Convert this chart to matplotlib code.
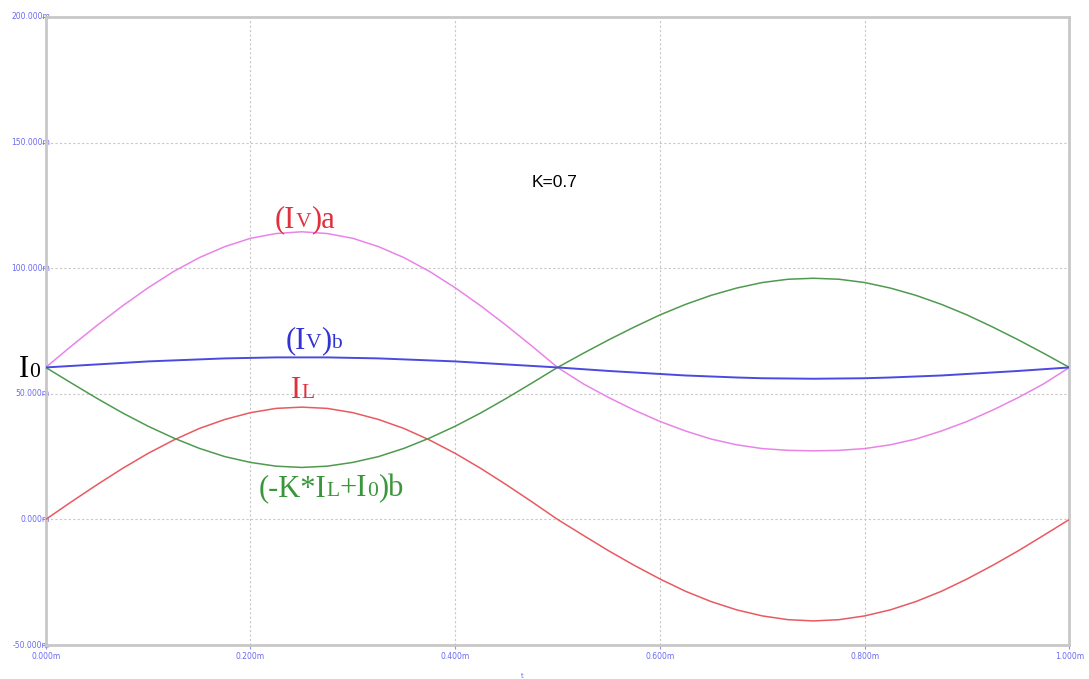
import numpy as np
import matplotlib
matplotlib.use("Agg")
import matplotlib.pyplot as plt
from matplotlib.offsetbox import TextArea, HPacker, AnnotationBbox

# ---- data (values in milli-units) ----
time = np.linspace(0.0, 1.0, 41)

iv_a = [60.5, 69.0, 77.2, 85.0, 92.2, 98.7, 104.2, 108.6, 111.9, 113.8, 114.5,
        113.8, 111.9, 108.6, 104.2, 98.7, 92.2, 85.0, 77.2, 69.0, 60.5,
        54.0, 48.5, 43.5, 39.0, 35.2, 32.0, 29.7, 28.2, 27.5, 27.3,
        27.5, 28.2, 29.7, 32.0, 35.2, 39.0, 43.5, 48.5, 54.0, 60.5]

i_l = [0, 7.0, 13.8, 20.3, 26.3, 31.6, 36.2, 39.8, 42.5, 44.2, 44.7,
       44.2, 42.5, 39.8, 36.2, 31.6, 26.3, 20.3, 13.8, 7.0, 0,
       -6.3, -12.5, -18.3, -23.7, -28.6, -32.7, -36.0, -38.4, -39.9, -40.4,
       -39.9, -38.4, -36.0, -32.7, -28.6, -23.7, -18.3, -12.5, -6.3, 0]

k_il_i0_b = [60.5, 54.3, 48.2, 42.4, 37.1, 32.4, 28.3, 25.0, 22.7, 21.2, 20.7,
             21.2, 22.7, 25.0, 28.3, 32.4, 37.1, 42.4, 48.2, 54.3, 60.5,
             66.1, 71.5, 76.6, 81.4, 85.6, 89.2, 92.1, 94.3, 95.6, 96.0,
             95.6, 94.3, 92.1, 89.2, 85.6, 81.4, 76.6, 71.5, 66.1, 60.5]

iv_b = [60.5, 61.1, 61.7, 62.3, 62.9, 63.3, 63.7, 64.1, 64.3, 64.5, 64.5,
        64.5, 64.3, 64.1, 63.7, 63.3, 62.9, 62.3, 61.7, 61.1, 60.5,
        59.8, 59.1, 58.5, 57.9, 57.3, 56.9, 56.5, 56.2, 56.1, 56.0,
        56.1, 56.2, 56.5, 56.9, 57.3, 57.9, 58.5, 59.1, 59.8, 60.5]

x_ticks = [0.0, 0.2, 0.4, 0.6, 0.8, 1.0]
x_tick_labels = ["0.000m", "0.200m", "0.400m", "0.600m", "0.800m", "1.000m"]
y_ticks = [-50, 0, 50, 100, 150, 200]
y_tick_labels = ["-50.000m", "0.000m", "50.000m", "100.000m", "150.000m", "200.000m"]

# ---- figure ----
fig = plt.figure(figsize=(10.89, 6.79), dpi=100)
ax = fig.add_axes([0.042, 0.050, 0.940, 0.925])

ax.plot(time, iv_a, color="#e884e8", lw=1.1, zorder=3)
ax.plot(time, i_l, color="#e85a60", lw=1.1, zorder=3)
ax.plot(time, k_il_i0_b, color="#4f9a4f", lw=1.1, zorder=3)
ax.plot(time, iv_b, color="#4a4ae0", lw=1.4, zorder=4)

ax.set_xlim(0, 1.0)
ax.set_ylim(-50, 200)
ax.set_xticks(x_ticks)
ax.set_xticklabels(x_tick_labels)
ax.set_yticks(y_ticks)
ax.set_yticklabels(y_tick_labels)
ax.tick_params(axis="both", length=3, color="#9090f0", labelsize=5.5,
               labelcolor="#6a6af0")
ax.tick_params(axis="y", pad=-6)
ax.tick_params(axis="x", pad=2)
for lab in ax.get_yticklabels():
    lab.set_verticalalignment("center")

ax.grid(True, color="#c8c8c8", linestyle=(0, (2, 2)), lw=0.8)
for sp in ax.spines.values():
    sp.set_color("#c8c8c8")
    sp.set_linewidth(2)

ax.text(0.465, -0.05, "t", transform=ax.transAxes, fontsize=5,
        color="#6a6af0", ha="center", va="center")


def mixed_label(parts, xy, color, ha=0.5, va=0.0):
    boxes = []
    for txt, big in parts:
        boxes.append(TextArea(txt, textprops=dict(
            fontsize=22 if big else 15.5, color=color,
            family="Liberation Serif")))
    pack = HPacker(children=boxes, align="baseline", pad=0, sep=0)
    ab = AnnotationBbox(pack, xy, xycoords="data", frameon=False,
                        box_alignment=(ha, va), annotation_clip=False,
                        zorder=6)
    ax.add_artist(ab)


mixed_label([("(I", True), ("V", False), (")a", True)], (0.253, 113.5), "#e0303c")
mixed_label([("(I", True), ("V", False), (")", True), ("b", False)], (0.262, 65.5), "#3232d6")
mixed_label([("I", True), ("L", False)], (0.251, 45.5), "#e0303c")
mixed_label([("(-K*I", True), ("L", False), ("+I", True), ("0", False), (")b", True)],
            (0.279, 6.5), "#3a963a")
mixed_label([("I", True), ("0", False)], (-0.006, 54.0), "#000000", ha=1.0)

ax.text(0.497, 134, "K=0.7", fontsize=12.5, family="Liberation Sans",
        color="#000000", ha="center", va="center")

fig.savefig("out.png", dpi=100)
